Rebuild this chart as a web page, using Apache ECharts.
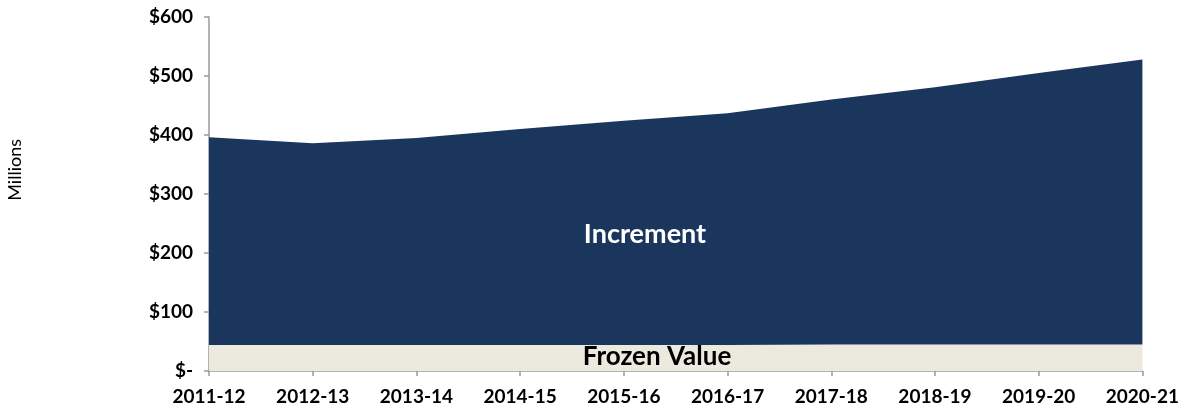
<!DOCTYPE html>
<html>
<head>
<meta charset="utf-8">
<script src="https://cdn.jsdelivr.net/npm/echarts@6/dist/echarts.min.js"></script>
<style>
  html, body { margin: 0; padding: 0; background: #fff; }
  #chart { width: 1182px; height: 408px; }
</style>
</head>
<body>
<div id="chart"></div>
<script>
const years = ['2011-12', '2012-13', '2013-14', '2014-15', '2015-16', '2016-17', '2017-18', '2018-19', '2019-20', '2020-21'];
// millions
const frozenValue = [44, 44, 44, 44, 44, 44, 45, 45, 45, 45];
const increment = [352, 342, 351, 366, 380, 393, 415, 436, 460, 483];
const yTicks = [0, 100, 200, 300, 400, 500, 600];

const font = 'Lato, "Open Sans", sans-serif';

const chart = echarts.init(document.getElementById('chart'));
chart.setOption({
  animation: false,
  grid: { left: 209, right: 39, top: 17, bottom: 37 },
  xAxis: {
    type: 'category',
    data: years,
    boundaryGap: false,
    axisLine: { lineStyle: { color: '#9a9a9a', width: 1.5 } },
    axisTick: { show: true, length: 5, lineStyle: { color: '#9a9a9a', width: 1.5 }, interval: 0 },
    axisLabel: { color: '#000', fontWeight: 'bold', fontSize: 19, fontFamily: font, margin: 16, interval: 0 }
  },
  yAxis: {
    type: 'value',
    min: yTicks[0],
    max: yTicks[yTicks.length - 1],
    interval: 100,
    splitLine: { show: false },
    axisLine: { show: true, lineStyle: { color: '#9a9a9a', width: 1.5 } },
    axisTick: { show: true, length: 5, lineStyle: { color: '#9a9a9a', width: 1.5 } },
    axisLabel: {
      color: '#000', fontWeight: 'bold', fontSize: 19, fontFamily: font, margin: 16,
      formatter: v => v === 0 ? '$-' : '$' + v
    }
  },
  graphic: [
    {
      type: 'text', left: 6, top: 139, rotation: Math.PI / 2, z: 100,
      style: { text: 'Millions', fontSize: 18, fontFamily: font, fill: '#000' }
    },
    {
      type: 'text', x: 645, y: 234, z: 100,
      style: { text: 'Increment', fontSize: 27, fontWeight: 'bold', fontFamily: font, fill: '#fff', align: 'center', verticalAlign: 'middle' }
    },
    {
      type: 'text', x: 657, y: 357, z: 100,
      style: { text: 'Frozen Value', fontSize: 26, fontWeight: 'bold', fontFamily: font, fill: '#000', align: 'center', verticalAlign: 'middle' }
    }
  ],
  series: [
    {
      name: 'Frozen Value', type: 'line', stack: 'total', data: frozenValue,
      symbol: 'none', lineStyle: { width: 0 },
      areaStyle: { color: '#ece9df', opacity: 1 }
    },
    {
      name: 'Increment', type: 'line', stack: 'total', data: increment,
      symbol: 'none', lineStyle: { width: 0 },
      areaStyle: { color: '#1b365d', opacity: 1 }
    }
  ]
});
</script>
</body>
</html>
